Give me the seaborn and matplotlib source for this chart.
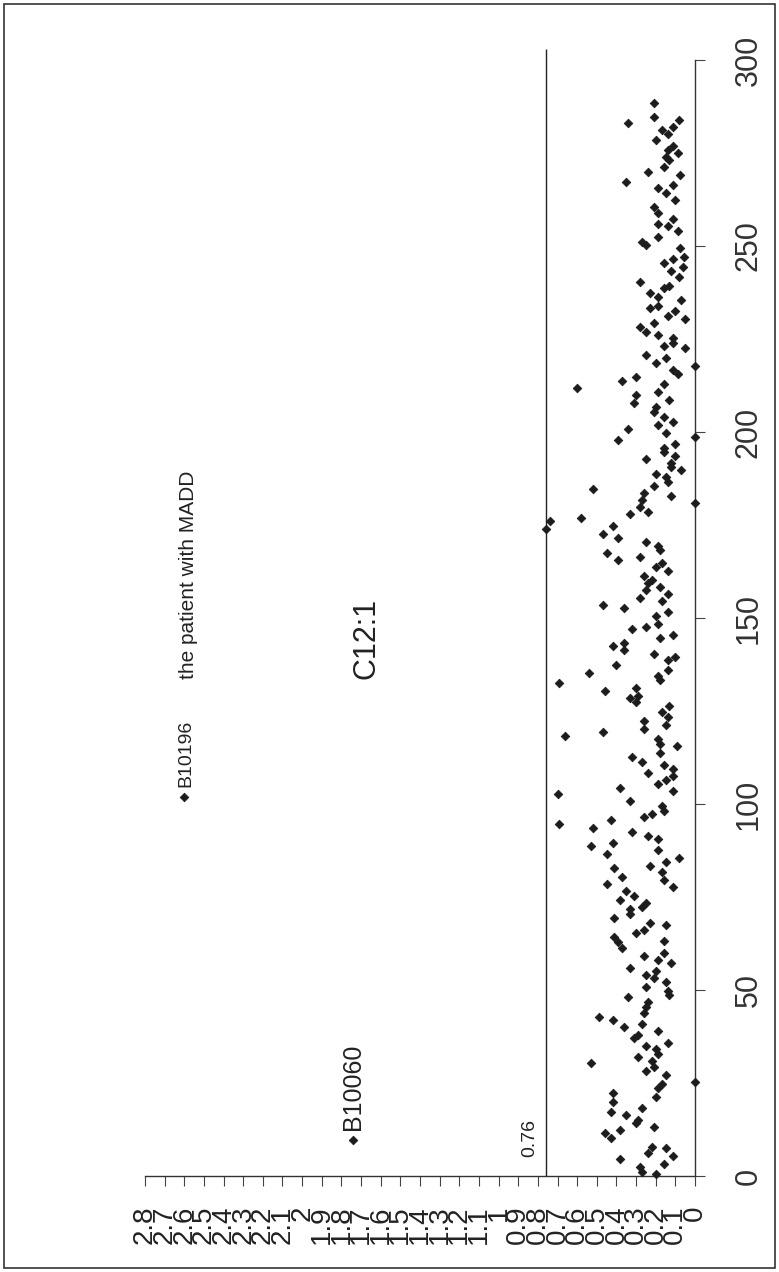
import numpy as np
import pandas as pd
import matplotlib
matplotlib.use("Agg")
import matplotlib.pyplot as plt
from matplotlib.patches import Rectangle
import seaborn as sns

# ---- data (read from the scanned, rotated chart) ----
sample = [
    0.5, 1.2, 2.5, 3.2, 4.5, 5.4, 6.3, 7.4, 7.9, 9.7, 10.1, 11.5, 12.4, 13.1, 14.2, 15.1,
    16.4, 17.3, 18.2, 20.0, 21.2, 22.4, 23.6, 24.7, 25.4, 27.2, 28.1, 29.2, 30.3, 31.0,
    32.1, 32.8, 34.1, 35.0, 35.8, 37.0, 37.9, 39.1, 40.0, 40.9, 41.9, 42.8, 43.7, 45.5,
    46.9, 48.0, 48.7, 49.6, 50.9, 52.2, 53.1, 54.0, 55.2, 56.0, 57.2, 58.1, 59.1, 60.0,
    61.2, 63.0, 63.3, 64.3, 65.2, 66.1, 67.5, 68.1, 69.3, 70.4,
    71.7, 72.4, 73.3, 74.2, 75.3, 76.5, 77.6, 78.5, 79.6, 80.5, 81.6, 82.7, 83.4, 84.5,
    85.4, 86.5, 87.7, 88.6, 89.6, 90.6, 91.4, 92.6, 93.5, 94.7, 95.6, 96.5, 97.3, 98.2,
    99.5, 100.7, 101.8, 102.7, 103.4, 104.2, 105.4, 106.5, 107.6, 108.3, 109.4, 110.5,
    111.2, 112.6, 113.7, 115.5, 116.2, 117.4, 118.4, 119.3, 120.1, 121.3, 122.4, 123.5,
    124.6, 126.4, 127.3, 128.4, 129.1, 130.4, 131.3, 132.5, 133.2, 134.3, 135.3, 136.1,
    137.4, 138.6, 139.5, 140.4, 141.3, 142.5, 143.4, 144.6, 145.5,
    147.0, 147.5, 148.5, 150.5, 151.7, 152.6, 153.5, 154.6, 155.5, 156.4, 157.5, 158.4,
    159.3, 160.2, 161.4, 162.7, 163.6, 164.8, 165.6, 166.5, 167.5, 168.4, 169.3, 170.5,
    171.6, 172.7, 173.8, 174.7, 176.1, 176.8, 177.9, 178.6, 179.9, 180.8, 181.7, 182.8,
    183.7, 184.8, 185.5, 186.6, 187.8, 188.7, 189.8, 190.6, 191.7, 192.7, 193.6, 194.7,
    195.6, 196.7, 197.8, 198.7, 199.6, 200.7, 201.9, 202.7, 203.9, 205.4, 206.8, 207.7,
    208.7, 209.9, 210.8, 211.9, 213.0, 213.8, 214.8, 215.7, 216.6, 217.7, 218.6, 219.8,
    220.7,
    222.5, 223.1, 223.8, 225.2, 226.0, 227.0, 228.3, 229.2, 230.3, 231.2, 232.6, 233.2,
    233.9, 235.5, 236.2, 237.3, 238.6, 239.2, 240.4, 241.8, 243.4, 244.4, 245.5, 246.4,
    247.1, 249.4, 250.3, 251.2, 252.5, 253.9, 255.4, 256.0, 257.2, 258.8, 260.6, 262.4,
    264.2, 265.5, 266.4, 267.3, 269.0, 270.0, 271.3, 273.0, 274.0, 275.0, 275.8, 277.0,
    278.5, 280.0, 281.2, 282.0, 283.0, 283.9, 284.8, 288.4,
]
value = [
    0.20, 0.27, 0.28, 0.16, 0.38, 0.11, 0.24, 0.15, 0.22, 1.74, 0.43, 0.46, 0.38, 0.21, 0.30, 0.29,
    0.35, 0.43, 0.27, 0.42, 0.20, 0.42, 0.19, 0.17, 0.00, 0.15, 0.25, 0.21, 0.53, 0.22,
    0.29, 0.19, 0.20, 0.25, 0.14, 0.31, 0.29, 0.19, 0.36, 0.27, 0.42, 0.49, 0.26, 0.25,
    0.24, 0.34, 0.13, 0.14, 0.25, 0.15, 0.21, 0.25, 0.20, 0.33, 0.12, 0.19, 0.26, 0.16,
    0.37, 0.39, 0.16, 0.41, 0.30, 0.26, 0.15, 0.23, 0.41, 0.33,
    0.33, 0.27, 0.25, 0.38, 0.31, 0.35, 0.11, 0.45, 0.16, 0.37, 0.17, 0.41, 0.23, 0.15,
    0.08, 0.45, 0.19, 0.53, 0.42, 0.19, 0.24, 0.32, 0.52, 0.69, 0.43, 0.26, 0.22, 0.16,
    0.17, 0.33, 2.60, 0.70, 0.11, 0.38, 0.19, 0.15, 0.11, 0.24, 0.11, 0.16,
    0.27, 0.32, 0.18, 0.09, 0.18, 0.19, 0.66, 0.47, 0.26, 0.15, 0.26, 0.14,
    0.17, 0.13, 0.30, 0.33, 0.29, 0.46, 0.30, 0.69, 0.18, 0.19, 0.54, 0.14,
    0.40, 0.14, 0.10, 0.21, 0.36, 0.42, 0.36, 0.18, 0.11,
    0.32, 0.25, 0.19, 0.20, 0.14, 0.36, 0.47, 0.17, 0.28, 0.14, 0.25, 0.18,
    0.24, 0.22, 0.26, 0.14, 0.20, 0.17, 0.39, 0.28, 0.45, 0.18, 0.19, 0.25,
    0.39, 0.47, 0.76, 0.42, 0.74, 0.58, 0.33, 0.24, 0.28, 0.00, 0.27, 0.12,
    0.26, 0.52, 0.21, 0.14, 0.15, 0.20, 0.07, 0.12, 0.12, 0.25, 0.10, 0.16,
    0.16, 0.10, 0.39, 0.00, 0.15, 0.34, 0.19, 0.11, 0.16, 0.21, 0.20, 0.31,
    0.13, 0.30, 0.19, 0.60, 0.16, 0.37, 0.30, 0.085, 0.11, 0.00, 0.20, 0.15,
    0.25,
    0.05, 0.16, 0.11, 0.11, 0.19, 0.25, 0.28, 0.21, 0.05, 0.14, 0.10, 0.23,
    0.19, 0.07, 0.19, 0.23, 0.16, 0.13, 0.28, 0.08, 0.12, 0.06, 0.16, 0.11,
    0.056, 0.076, 0.25, 0.27, 0.19, 0.085, 0.14, 0.19, 0.11, 0.19, 0.21, 0.10,
    0.15, 0.19, 0.11, 0.35, 0.076, 0.24, 0.16, 0.13, 0.15, 0.085, 0.14, 0.11,
    0.20, 0.14, 0.17, 0.11, 0.34, 0.08, 0.21, 0.21,
]
cutoff = 0.76
value_ticks = [round(0.1 * i, 1) for i in range(29)]
value_tick_labels = [f"{t:g}" for t in value_ticks]
sample_ticks = [0, 50, 100, 150, 200, 250, 300]
title_text = "C12:1"
# (text, value position, sample position, font size)
notes = [("B10060", 1.74, 12.4, 18), ("B10196", 2.59, 104.5, 14),
         ("the patient with MADD", 2.58, 133.5, 15)]

df = pd.DataFrame({"value": value, "sample": sample})

# ---- figure ----
sns.set_style("white")
plt.rcParams["font.family"] = ["Liberation Sans", "DejaVu Sans"]

W, H = 779, 1272
fig = plt.figure(figsize=(W / 100, H / 100), dpi=100)
ax = fig.add_axes([145 / W, (H - 1176) / H, (695 - 145) / W, (1176 - 60) / H])

sns.scatterplot(data=df, x="value", y="sample", ax=ax, marker="D", s=19,
                color="#1c1c1c", edgecolor="#1c1c1c", linewidth=0.6, legend=False,
                clip_on=False, zorder=3)

ax.set_xlim(2.8, 0)
ax.set_ylim(0, 300)
ax.set_xlabel("")
ax.set_ylabel("")

# cutoff line
ax.vlines(cutoff, 0, 303, color="#222222", linewidth=1.0, clip_on=False)

# spines
for s in ["top", "left"]:
    ax.spines[s].set_visible(False)
for s in ["bottom", "right"]:
    ax.spines[s].set_color("#333333")
    ax.spines[s].set_linewidth(1.0)

ax.set_xticks(value_ticks)
ax.set_xticklabels(value_tick_labels, rotation=90, fontsize=20, color="#222222")
ax.tick_params(axis="x", direction="out", length=7, width=0.8, color="#444444", pad=14, bottom=True)

ax.yaxis.tick_right()
ax.set_yticks(sample_ticks)
ax.set_yticklabels([str(t) for t in sample_ticks], rotation=90, fontsize=22, color="#333333",
                   va="center")
ax.tick_params(axis="y", direction="out", length=7, width=0.8, color="#444444", pad=21,
               right=True, left=False)

# annotations
ax.text(1.67, 144.6, title_text, rotation=90, ha="center", va="center", fontsize=22, color="#222222")
ax.text(0.84, 10.2, "0.76", rotation=90, ha="center", va="center", fontsize=14, color="#222222")
for txt, vx, sy, fs in notes:
    ax.text(vx, sy, txt, rotation=90, rotation_mode="anchor", ha="left", va="center",
            fontsize=fs, color="#222222")

# page border of the scan
fig.patches.append(Rectangle((4 / W, 4 / H), (W - 8) / W, (H - 8) / H, transform=fig.transFigure,
                             fill=False, edgecolor="#333333", linewidth=1.2))

fig.savefig("out.png", dpi=100)
